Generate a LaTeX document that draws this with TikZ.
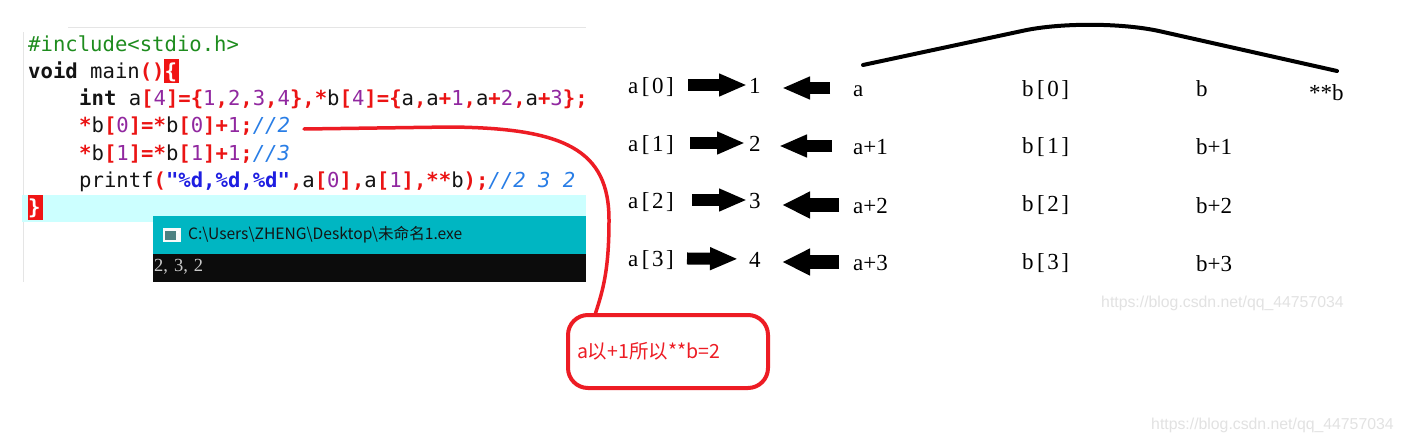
\documentclass[tikz,border=0pt]{standalone}
\usepackage{fontspec}
\setmainfont{Liberation Serif}
\setmonofont{DejaVu Sans Mono}
\newfontfamily\cjkf{Noto Sans CJK SC}
\newfontfamily\wmf{Liberation Sans}
\usetikzlibrary{arrows.meta}
\definecolor{opred}{RGB}{235,20,20}
\definecolor{numpur}{RGB}{145,40,160}
\definecolor{cmtblue}{RGB}{40,125,230}
\definecolor{strblue}{RGB}{30,30,225}
\definecolor{ppgreen}{RGB}{30,140,30}
\definecolor{idblack}{RGB}{20,20,20}
\definecolor{hlred}{RGB}{240,20,20}
\definecolor{hlcyan}{RGB}{204,255,255}
\definecolor{titlecyan}{RGB}{0,182,194}
\definecolor{conblack}{RGB}{12,12,12}
\definecolor{congray}{RGB}{200,200,200}
\definecolor{cred}{RGB}{237,28,36}
\definecolor{wmgray}{RGB}{226,226,226}
\newcommand\opk[1]{\textcolor{opred}{\bfseries #1}}
\newcommand\nmk[1]{\textcolor{numpur}{#1}}
\newcommand\cmk[1]{\textcolor{cmtblue}{\itshape #1}}
\newcommand\stk[1]{\textcolor{strblue}{\bfseries #1}}
\newcommand\hlk[1]{\makebox[0pt][l]{\kern-0.5pt\textcolor{hlred}{\rule[-5pt]{15pt}{24.5pt}}}\textcolor{white}{\bfseries #1}}
\newcommand\brk[2]{#1\kern3.5pt[\kern2.5pt#2\kern2.5pt]}
\tikzset{
  code/.style={inner sep=0pt, anchor=base west, text=idblack, font=\ttfamily\fontsize{20.6}{24}\selectfont},
  lbl/.style={inner sep=0pt, anchor=base west, font=\fontsize{23}{27}\selectfont, text height=16pt, text depth=0pt},
  blk/.style={line width=12pt, -{Triangle[length=28pt,width=21pt]}},
  blkb/.style={line width=14pt, -{Triangle[length=28pt,width=25pt]}},
  callout/.style={draw=cred, line width=4pt, rounded corners=20pt, minimum width=200pt, minimum height=73pt, inner sep=0pt, text=cred, text width=182pt, align=left, font=\cjkf\fontsize{19.5}{22}\selectfont},
  redline/.style={draw=cred, line width=3.5pt, line cap=round},
  wm/.style={inner sep=0pt, anchor=west, text=wmgray, font=\wmf\fontsize{15.8}{18}\selectfont}
}
\begin{document}
\begin{tikzpicture}[x=1pt,y=-1pt]
\useasboundingbox (0,0) rectangle (1404,442);
\fill[white] (0,0) rectangle (1404,442);
% code panel
\draw[gray!20, line width=1pt] (68,27) -- (586,27);
\draw[gray!20, line width=1pt] (23,32) -- (23,282);
\fill[hlcyan] (22,195) rectangle (586,222);
\node[code] (l1) at (28,51) {\textcolor{ppgreen}{\#include<stdio.h>}};
\node[code] (l2) at (28,78.3) {\textbf{void} main\opk{()}\hlk{\{}};
\node[code] (l3) at (79,105.6) {\textbf{int} a\opk{[}\nmk{4}\opk{]=\{}\nmk{1}\opk{,}\nmk{2}\opk{,}\nmk{3}\opk{,}\nmk{4}\opk{\},*}b\opk{[}\nmk{4}\opk{]=\{}a\opk{,}a\opk{+}\nmk{1}\opk{,}a\opk{+}\nmk{2}\opk{,}a\opk{+}\nmk{3}\opk{\};}};
\node[code] (l4) at (79,132.9) {\opk{*}b\opk{[}\nmk{0}\opk{]=*}b\opk{[}\nmk{0}\opk{]+}\nmk{1}\opk{;}\cmk{//2}};
\node[code] (l5) at (79,160.2) {\opk{*}b\opk{[}\nmk{1}\opk{]=*}b\opk{[}\nmk{1}\opk{]+}\nmk{1}\opk{;}\cmk{//3}};
\node[code] (l6) at (79,187.5) {printf\opk{(}\stk{"\%d,\%d,\%d"}\opk{,}a\opk{[}\nmk{0}\opk{],}a\opk{[}\nmk{1}\opk{],**}b\opk{);}\cmk{//2 3 2}};
\node[code] (l7) at (28,214.8) {\hlk{\}}};
% console window
\fill[titlecyan] (153,216) rectangle (586,254);
\fill[conblack] (153,254) rectangle (586,282);
\fill[white!95!gray] (163,228) rectangle (181,242);
\fill[gray!60!teal] (165,230.5) rectangle (176,240);
\fill[white] (176.5,230.5) rectangle (179,233);
\node[inner sep=0pt, anchor=west, text=idblack, font=\cjkf\fontsize{15.6}{19}\selectfont] (title) at (188,235) {C:\textbackslash Users\textbackslash ZHENG\textbackslash Desktop\textbackslash 未命名1.exe};
\node[inner sep=0pt, anchor=base west, text=congray, font=\fontsize{18.5}{22}\selectfont] (out) at (154,271) {2,\kern6pt 3,\kern6pt 2};
% memory picture
\node[lbl] (a0) at (628,93) {\brk{a}{0}};
\node[lbl] (a1) at (628,151) {\brk{a}{1}};
\node[lbl] (a2) at (628,208) {\brk{a}{2}};
\node[lbl] (a3) at (628,266) {\brk{a}{3}};
\node[lbl] (d0) at (749,93) {1};
\node[lbl] (d1) at (749,151) {2};
\node[lbl] (d2) at (749,208) {3};
\node[lbl] (d3) at (749,267) {4};
\node[lbl] (p0) at (853,96) {a};
\node[lbl] (p1) at (853,154) {a+1};
\node[lbl] (p2) at (853,213) {a+2};
\node[lbl] (p3) at (853,270) {a+3};
\node[lbl] (q0) at (1022,96) {\brk{b}{0}};
\node[lbl] (q1) at (1022,153) {\brk{b}{1}};
\node[lbl] (q2) at (1022,211) {\brk{b}{2}};
\node[lbl] (q3) at (1022,269) {\brk{b}{3}};
\node[lbl] (r0) at (1196,96) {b};
\node[lbl] (r1) at (1196,154) {b+1};
\node[lbl] (r2) at (1196,213) {b+2};
\node[lbl] (r3) at (1196,271) {b+3};
\node[lbl] (s0) at (1309,100) {**b};
% arrows a[i] -> value
\draw[blk, shorten <=60pt, shorten >=2pt, yshift=1pt] (a0.west) -- (d0.west);
\draw[blk, shorten <=62pt, shorten >=4pt] (a1.west) -- (d1.west);
\draw[blk, shorten <=64pt, shorten >=2pt, yshift=2pt] (a2.west) -- (d2.west);
\draw[blk, shorten <=59pt, shorten >=11pt, yshift=5pt] (a3.west) -- (d3.west);
% arrows a+i -> value
\draw[blk, shorten <=23pt, shorten >=33pt, yshift=1pt] (p0.west) -- (p0.west -| d0.west);
\draw[blk, shorten <=21pt, shorten >=30pt, yshift=3pt] (p1.west) -- (p1.west -| d1.west);
\draw[blkb, shorten <=14pt, shorten >=33pt, yshift=2pt] (p2.west) -- (p2.west -| d2.west);
\draw[blkb, shorten <=14pt, shorten >=33pt, yshift=2pt] (p3.west) -- (p3.west -| d3.west);
% arc over the top row
\draw[line width=4pt, line cap=round, rounded corners=70pt] (863,65) -- (1092,16) -- (1337,71);
% callout
\node[callout] (note) at (668,351.5) {a以+1所以**b=2};
\coordinate (rstart) at (304,129);
\draw[redline] (rstart) -- (450,127) .. controls (565,128) and (609,150) .. (609,220) .. controls (609,270) and (603,290) .. (note.152);
% watermarks
\node[wm] (wm1) at (1101,303) {https://blog.csdn.net/qq\_44757034};
\node[wm] (wm2) at (1151,425) {https://blog.csdn.net/qq\_44757034};
\end{tikzpicture}
\end{document}
